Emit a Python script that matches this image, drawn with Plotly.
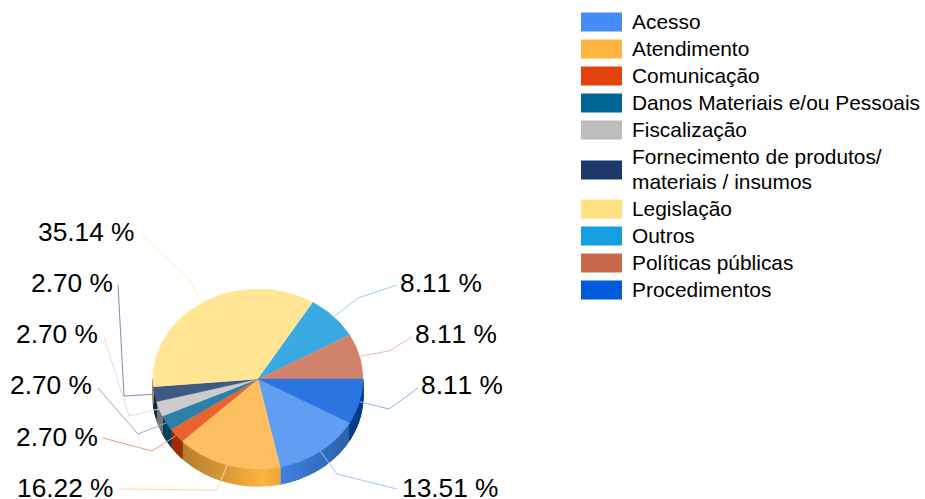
import math
import plotly.graph_objects as go

categories = ["Acesso", "Atendimento", "Comunicação", "Danos Materiais e/ou Pessoais", "Fiscalização",
              "Fornecimento de produtos/<br>materiais / insumos", "Legislação", "Outros", "Políticas públicas",
              "Procedimentos"]
values = [13.51, 16.22, 2.70, 2.70, 2.70, 2.70, 35.14, 8.11, 8.11, 8.11]
legend_colors = ["#458df5", "#ffb540", "#e2420d", "#006493", "#bdbdbd", "#1b3a6b", "#ffe083", "#149fe0", "#c8694b", "#005bdc"]
top_colors = ["#5f9ef2", "#fdbf5f", "#e8632f", "#2f80a9", "#cccccc", "#3f5a82", "#ffe594", "#3aabe2", "#d1826a", "#2c75e0"]
line_colors = ["#a3c5f7", "#fcd8a0", "#f09a7c", "#85b2cb", "#dedede", "#7790b0", "#ffefbd", "#94d1f2", "#e9bbaa", "#85b0ee"]

# layout constants (pixels): pie geometry, label anchors, leader elbows
CX, CY, RX, RY, DEPTH = 258, 379, 105, 90, 17
START_DEG = 29.2
label_pos = [(402, 488), (17, 488), (16, 437), (10, 385), (16, 334), (31, 283), (38, 232), (401, 283), (416, 334), (422, 385)]
leader_out = [(397, 489), (119, 489), (103, 438), (98, 388), (104, 337), (118, 285), (140, 233), (397, 285), (412, 337), (418, 388)]
leader_mid = [(337, 474), (217, 490), (152, 451), (138, 434), (129, 416), (124, 396), (188, 278), (358, 298), (389, 351), (389, 409)]
legend_y = [22, 49, 76, 103, 130, 170, 209, 236, 263, 290]
LEGEND_LINE = 25


def pt(deg):
    a = math.radians(deg)
    return CX + RX * math.cos(a), CY + RY * math.sin(a)


def rgb(h):
    return [int(h[i:i + 2], 16) for i in (1, 3, 5)]


def shade(h, x):
    t = abs(x - 262) / 105
    f = 1.0 - 0.38 * min(1.0, t ** 0.9)
    return "rgb(%d,%d,%d)" % tuple(round(c * f) for c in rgb(h))


total = sum(values)
fig = go.Figure()
spans = []
a0 = START_DEG
for v in values:
    a1 = a0 + v / total * 360
    spans.append((a0, a1))
    a0 = a1
wrap = (START_DEG - values[-1] / total * 360, START_DEG)  # last slice wraps round to the east

walls = list(zip(spans[:-1], legend_colors)) + [(wrap, legend_colors[-1])]
for (s, e), col in walls:
    lo, hi = max(s, 0), min(e, 180)
    d = lo
    while d < hi:
        n = min(d + 2, hi)
        p0, p1 = pt(d), pt(n)
        xs = [p0[0], p1[0], p1[0], p0[0], p0[0]]
        ys = [p0[1], p1[1], p1[1] + DEPTH, p0[1] + DEPTH, p0[1]]
        c = shade(col, (p0[0] + p1[0]) / 2)
        fig.add_trace(go.Scatter(x=xs, y=ys, mode="lines", fill="toself", fillcolor=c,
                                 line=dict(color=c, width=1.2), hoverinfo="skip", showlegend=False))
        d = n

for i, (s, e) in enumerate(spans):
    n = max(2, int((e - s) / 1.5))
    arc = [pt(s + (e - s) * j / n) for j in range(n + 1)]
    xs = [CX] + [p[0] for p in arc] + [CX]
    ys = [CY] + [p[1] for p in arc] + [CY]
    fig.add_trace(go.Scatter(x=xs, y=ys, mode="lines", fill="toself", fillcolor=top_colors[i],
                             line=dict(color=top_colors[i], width=0.4), name=categories[i].replace("<br>", " "),
                             hoverinfo="skip", showlegend=False))

shapes, anns = [], []
for i, v in enumerate(values):
    s, e = spans[i]
    mx, my = pt((s + e) / 2)
    ox, oy = leader_out[i]
    ex, ey = leader_mid[i]
    shapes.append(dict(type="path", path=f"M{ox},{oy} L{ex},{ey} L{mx:.1f},{my:.1f}", xref="x", yref="y",
                       line=dict(color=line_colors[i], width=1), layer="above"))
    lx, ly = label_pos[i]
    anns.append(dict(x=lx, y=ly, xref="x", yref="y", text=f"{v:.2f} %", showarrow=False, xanchor="left",
                     yanchor="middle", xshift=-2, font=dict(family="Liberation Sans", size=26.3, color="#000000")))
    yl = legend_y[i]
    shapes.append(dict(type="rect", x0=581, x1=622, y0=yl - 9.5, y1=yl + 9.5, xref="x", yref="y",
                       fillcolor=legend_colors[i], line=dict(width=0)))
    parts = categories[i].split("<br>")
    for k, part in enumerate(parts):
        off = (k - (len(parts) - 1) / 2) * LEGEND_LINE - 1
        anns.append(dict(x=632, y=yl + off, xref="x", yref="y", text=part, showarrow=False, xanchor="left",
                         yanchor="middle", align="left", xshift=-2,
                         font=dict(family="Liberation Sans", size=20.9, color="#000000")))

fig.update_layout(width=925, height=499, margin=dict(l=0, r=0, t=0, b=0), autosize=False,
                  paper_bgcolor="#ffffff", plot_bgcolor="#ffffff", shapes=shapes, annotations=anns,
                  xaxis=dict(range=[0, 925], visible=False, fixedrange=True),
                  yaxis=dict(range=[499, 0], visible=False, fixedrange=True))
fig.write_html("out.html", config={"displayModeBar": False},
               post_script="document.body.style.margin='0';document.body.style.overflow='hidden';"
                           "document.querySelectorAll('text').forEach(function(t){"
                           "if(t.textContent.indexOf('%')>=0){t.style.fontKerning='none';}});")
